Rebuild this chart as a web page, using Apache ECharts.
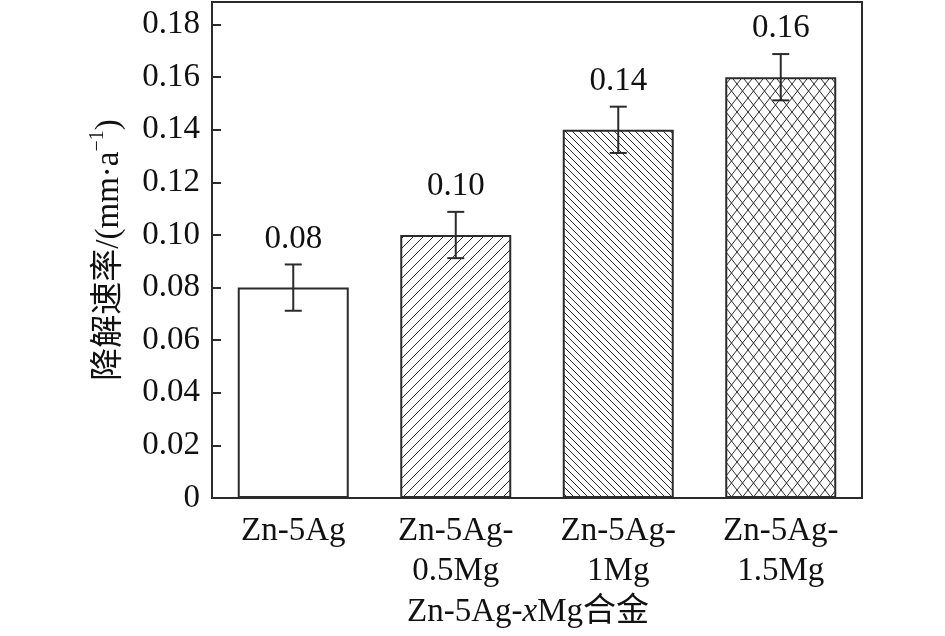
<!DOCTYPE html>
<html><head><meta charset="utf-8">
<script src="https://cdn.jsdelivr.net/npm/echarts@6/dist/echarts.min.js"></script>
<style>html,body{margin:0;padding:0;background:#fff}#c{width:945px;height:636px}</style>
</head><body><div id="c"></div>
<script>
const categories = ['Zn-5Ag', 'Zn-5Ag-\n0.5Mg', 'Zn-5Ag-\n1Mg', 'Zn-5Ag-\n1.5Mg'];
const values = [0.08, 0.10, 0.14, 0.16];
const errors = [0.0088, 0.0088, 0.0088, 0.0088];
const labels = ['0.08', '0.10', '0.14', '0.16'];

const FONT = '"Liberation Serif", "Times New Roman", "Noto Sans CJK SC", serif';
const INK = '#2b2b2b';
const TXT = '#111';

function makePattern(kind) {
  const c = document.createElement('canvas');
  let w, h;
  if (kind === 'fwd') { w = 10; h = 10; }
  else if (kind === 'back') { w = 7; h = 7; }
  else { w = 11; h = 14; }
  c.width = w; c.height = h;
  const g = c.getContext('2d');
  g.fillStyle = '#fff'; g.fillRect(0, 0, w, h);
  g.strokeStyle = INK; g.lineWidth = 1;
  g.beginPath();
  if (kind === 'fwd' || kind === 'cross') {
    g.moveTo(-1, h + 1 * h / w); g.lineTo(w + 1, -1 * h / w);
  }
  if (kind === 'back' || kind === 'cross') {
    g.moveTo(-1, -1 * h / w); g.lineTo(w + 1, h + 1 * h / w);
  }
  g.stroke();
  return { image: c, repeat: 'repeat' };
}
const fills = ['#ffffff', makePattern('fwd'), makePattern('back'), makePattern('cross')];

const chart = echarts.init(document.getElementById('c'));
chart.setOption({
  animation: false,
  grid: { left: 212, right: 83, top: 2, bottom: 138, containLabel: false, outerBoundsMode: 'none',
          show: true, borderColor: INK, borderWidth: 2, backgroundColor: 'transparent' },
  xAxis: {
    type: 'category', data: categories,
    axisLine: { lineStyle: { color: INK, width: 2 } },
    axisTick: { show: false },
    axisLabel: { fontFamily: FONT, fontSize: 33, color: TXT, lineHeight: 40, margin: 13 },
    name: '{a|Zn-5Ag-}{i|x}{a|Mg合金}',
    nameLocation: 'middle', nameGap: 98,
    nameTextStyle: {
      padding: [0, 18, 0, 0],
      rich: {
        a: { fontFamily: FONT, fontSize: 33, color: TXT },
        i: { fontFamily: FONT, fontSize: 33, fontStyle: 'italic', color: TXT }
      }
    }
  },
  yAxis: {
    type: 'value', min: 0, max: 0.1886, interval: 0.02,
    splitLine: { show: false },
    axisLine: { show: true, lineStyle: { color: INK, width: 2 } },
    axisTick: { show: true, inside: true, length: 9, lineStyle: { color: INK, width: 2 } },
    axisLabel: {
      fontFamily: FONT, fontSize: 33, color: TXT, margin: 12,
      formatter: function (v) {
        const k = Math.round(v / 0.02);
        if (Math.abs(v - k * 0.02) > 1e-6) return '';
        return k === 0 ? '0' : (k * 0.02).toFixed(2);
      }
    },
    name: '{a|降解速率/(mm·a}{s|−1}{a|)}',
    nameLocation: 'middle', nameGap: 86, nameRotate: 90,
    nameTextStyle: {
      rich: {
        a: { fontFamily: FONT, fontSize: 33, color: TXT, lineHeight: 38, verticalAlign: 'bottom' },
        s: { fontFamily: FONT, fontSize: 20, color: TXT, lineHeight: 38, verticalAlign: 'top' }
      }
    }
  },
  series: [
    {
      type: 'bar', barWidth: 111,
      data: values.map((v, i) => ({ value: v, itemStyle: { color: fills[i] } })),
      itemStyle: { borderColor: INK, borderWidth: 2 },
      label: {
        show: true, position: 'top', distance: 32,
        fontFamily: FONT, fontSize: 33, color: TXT,
        formatter: p => labels[p.dataIndex]
      }
    },
    {
      type: 'custom',
      data: values.map((v, i) => [i, v - errors[i], v + errors[i]]),
      renderItem: function (params, api) {
        const lo = api.coord([api.value(0), api.value(1)]);
        const hi = api.coord([api.value(0), api.value(2)]);
        const hw = 8.5;
        const st = { stroke: INK, lineWidth: 2 };
        return {
          type: 'group', children: [
            { type: 'line', shape: { x1: hi[0], y1: hi[1], x2: lo[0], y2: lo[1] }, style: st },
            { type: 'line', shape: { x1: hi[0] - hw, y1: hi[1], x2: hi[0] + hw, y2: hi[1] }, style: st },
            { type: 'line', shape: { x1: lo[0] - hw, y1: lo[1], x2: lo[0] + hw, y2: lo[1] }, style: st }
          ]
        };
      },
      z: 10
    }
  ]
});
</script></body></html>
